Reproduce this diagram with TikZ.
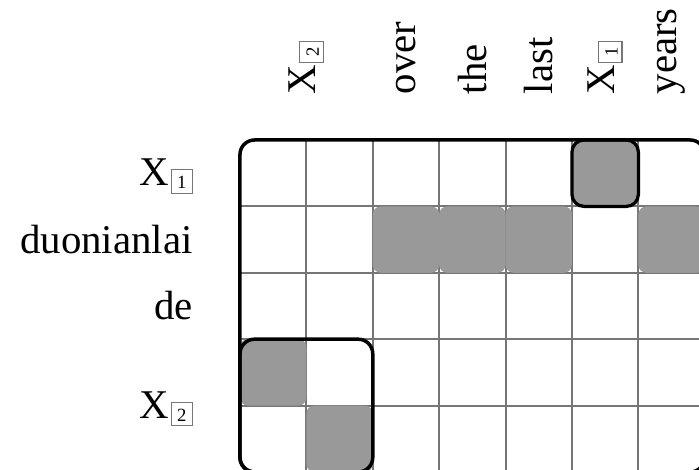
\documentclass[tikz,border=0pt]{standalone}
\usepackage{fontspec}
\setmainfont{Liberation Serif}
\usetikzlibrary{positioning}
\definecolor{alnfill}{HTML}{999999}
\definecolor{alngrid}{HTML}{767676}
\newcommand{\slotbox}[1]{\raisebox{-1.3pt}{\setlength{\fboxsep}{0.6pt}\setlength{\fboxrule}{0.5pt}%
  \fcolorbox{alngrid}{white}{\rule[-1pt]{0pt}{8.4pt}\makebox[7.2pt]{\fontsize{8}{8}\selectfont #1}}}}
\newcommand{\xslot}[1]{X\kern0.8pt\slotbox{#1}}

\begin{document}
\begin{tikzpicture}[
  gridline/.style={alngrid, line width=0.8pt},
  frame/.style={black, line width=1.5pt, rounded corners=0.22cm},
  aligned/.style={fill=alnfill, rounded corners=0.12cm, minimum size=1cm, inner sep=0pt},
  phrase/.style={draw=black, line width=1.4pt, rounded corners=0.18cm},
  collabel/.style={rotate=90, anchor=west, inner sep=1pt, font=\fontsize{17.5}{20}\selectfont},
  rowlabel/.style={anchor=east, inner sep=1pt, font=\fontsize{17.5}{20}\selectfont}
]
\useasboundingbox (-3.614,-4.97) rectangle (6.913,2.108);

% grid of word pairs
\begin{scope}
  \clip[rounded corners=0.22cm] (0,0) rectangle (7,-5);
  \draw[gridline] (0,-5) grid (7,0);
\end{scope}

% aligned cells
\node[aligned] (du-over) at (2.5,-1.5) {};
\node[aligned] (du-the) at (3.5,-1.5) {};
\node[aligned] (du-last) at (4.5,-1.5) {};
\node[aligned] (du-years) at (6.5,-1.5) {};
\node[aligned] (xb-xb) at (0.5,-3.5) {};
\node[aligned] (xb-lo) at (1.5,-4.5) {};
\node[aligned, phrase] (xa-xa) at (5.5,-0.5) {};

% frames
\draw[frame] (0,0) rectangle (7,-5);
\draw[frame] (0,-3) rectangle (2,-5);

% target words
\node[collabel] (t-xb) at (1.0,0.645) {\xslot{2}};
\node[collabel] (t-over) at (2.5,0.645) {over};
\node[collabel] (t-the) at (3.5,0.645) {the};
\node[collabel] (t-last) at (4.5,0.645) {last};
\node[collabel] (t-xa) at (5.5,0.645) {\xslot{1}};
\node[collabel] (t-years) at (6.5,0.645) {years};

% source words
\node[rowlabel] (s-xa) at (-0.67,-0.55) {\xslot{1}};
\node[rowlabel] (s-du) at (-0.67,-1.5) {duonianlai};
\node[rowlabel] (s-de) at (-0.67,-2.5) {de};
\node[rowlabel] (s-xb) at (-0.67,-4.05) {\xslot{2}};
\end{tikzpicture}
\end{document}
